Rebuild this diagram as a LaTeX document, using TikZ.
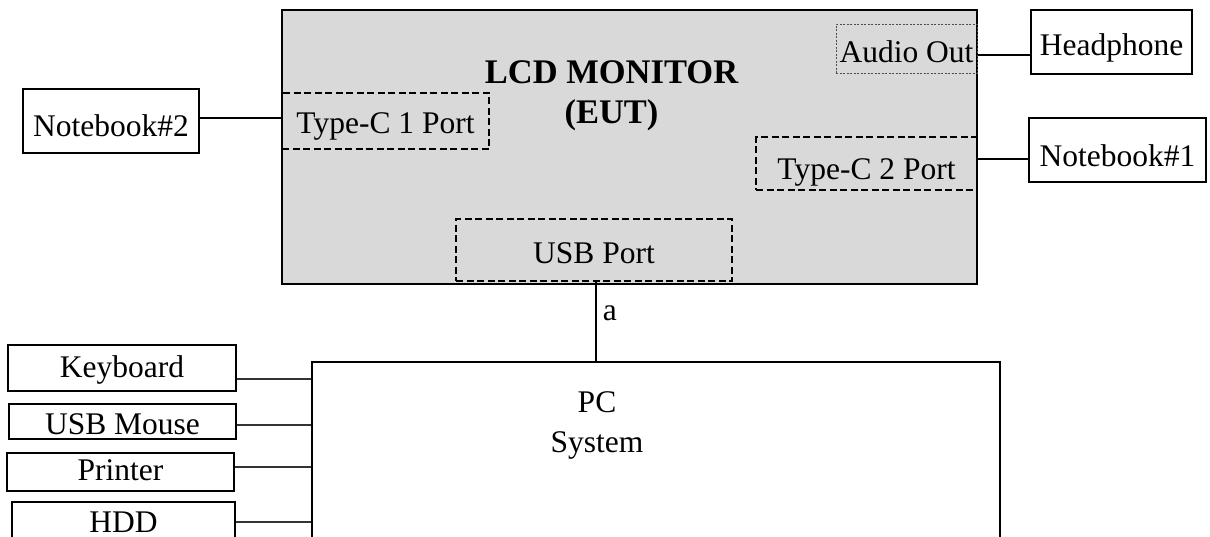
\documentclass[tikz,border=0pt]{standalone}
\usepackage{fontspec}
\setmainfont{Liberation Serif}
\begin{document}
\begin{tikzpicture}[x=1pt,y=-1pt,
  tb/.style={text height=#1, text depth=0pt},
  txt/.style={font=\fontsize{31.5}{45}\selectfont, inner sep=0pt},
  ext/.style={draw, line width=1.4pt, fill=white, inner sep=0pt, font=\fontsize{31.5}{38}\selectfont},
  port/.style={draw, line width=1.3pt, dash pattern=on 7pt off 3.5pt, inner sep=0pt, font=\fontsize{31.5}{38}\selectfont},
  dotport/.style={draw, line width=1pt, draw=black!70, dash pattern=on 2pt off 1.5pt, inner sep=0pt, font=\fontsize{31.5}{38}\selectfont, text=black},
  wire/.style={line width=1.6pt},
  thinwire/.style={line width=1.2pt, draw=black!80}]
\useasboundingbox (0,0) rectangle (1210,536);
\clip (0,0) rectangle (1210,536);
\definecolor{mongray}{HTML}{D9D9D9}
% LCD monitor
\node[draw, line width=2.6pt, fill=mongray, minimum width=695pt, minimum height=274pt, inner sep=0pt] (mon) at (629.5,147) {};
\node[font=\fontsize{34.5}{40}\selectfont\bfseries, inner sep=0pt, anchor=base] (title1) at (611.5,83) {LCD MONITOR};
\node[font=\fontsize{34.5}{40}\selectfont\bfseries, inner sep=0pt, anchor=base] (title2) at (611.5,123) {(EUT)};
\node[port, tb=24pt, minimum width=207pt, minimum height=56pt] (tc1) at (385.5,121) {Type-C 1 Port};
\node[dotport, tb=27pt, minimum width=141pt, minimum height=49pt] (audio) at (906.5,48.5) {Audio Out};
\node[port, tb=31pt, minimum width=221pt, minimum height=53pt] (tc2) at (866.5,163.5) {Type-C 2 Port};
\node[port, tb=26pt, minimum width=276pt, minimum height=62pt] (usb) at (594,250) {USB Port};
% external devices
\node[ext, tb=30pt, minimum width=176pt, minimum height=64pt] (nb2) at (111,121) {Notebook\#2};
\node[ext, tb=26pt, minimum width=161pt, minimum height=64pt] (hp) at (1111.5,42) {Headphone};
\node[ext, tb=33pt, minimum width=177pt, minimum height=64pt] (nb1) at (1117.5,150) {Notebook\#1};
% PC
\node[draw, line width=2.2pt, minimum width=688pt, minimum height=198pt, inner sep=0pt] (pc) at (656,461) {};
\node[txt, anchor=base] (pc1) at (597,412) {PC};
\node[txt, anchor=base] (pc2) at (597,452) {System};
% peripherals
\node[ext, tb=18pt, minimum width=228pt, minimum height=46pt] (kb) at (122,368) {Keyboard};
\node[ext, tb=26pt, minimum width=227pt, minimum height=35pt] (mouse) at (122.5,421.5) {USB Mouse};
\node[ext, tb=16pt, minimum width=227pt, minimum height=38pt] (prn) at (120.5,472) {Printer};
\node[ext, tb=15pt, minimum width=223pt, minimum height=45pt] (hdd) at (123.5,524.5) {HDD};
% connectors
\coordinate (yhp) at (0,55);
\coordinate (ynb1) at (0,159);
\coordinate (ynb2) at (0,118);
\draw[wire] (mon.east |- yhp) -- (hp.west |- yhp);
\draw[wire] (mon.east |- ynb1) -- (nb1.west |- ynb1);
\draw[wire] (nb2.east |- ynb2) -- (mon.west |- ynb2);
\draw[wire] (usb.south -| 596,0) -- (pc.north -| 596,0) node[pos=0.4, right=6pt, txt] (a) {a};
\coordinate (ykb) at (0,379);
\coordinate (yms) at (0,425);
\coordinate (ypr) at (0,467);
\coordinate (yhd) at (0,522);
\draw[thinwire] (kb.east |- ykb) -- (pc.west |- ykb);
\draw[thinwire] (mouse.east |- yms) -- (pc.west |- yms);
\draw[thinwire] (prn.east |- ypr) -- (pc.west |- ypr);
\draw[thinwire] (hdd.east |- yhd) -- (pc.west |- yhd);
\end{tikzpicture}
\end{document}
